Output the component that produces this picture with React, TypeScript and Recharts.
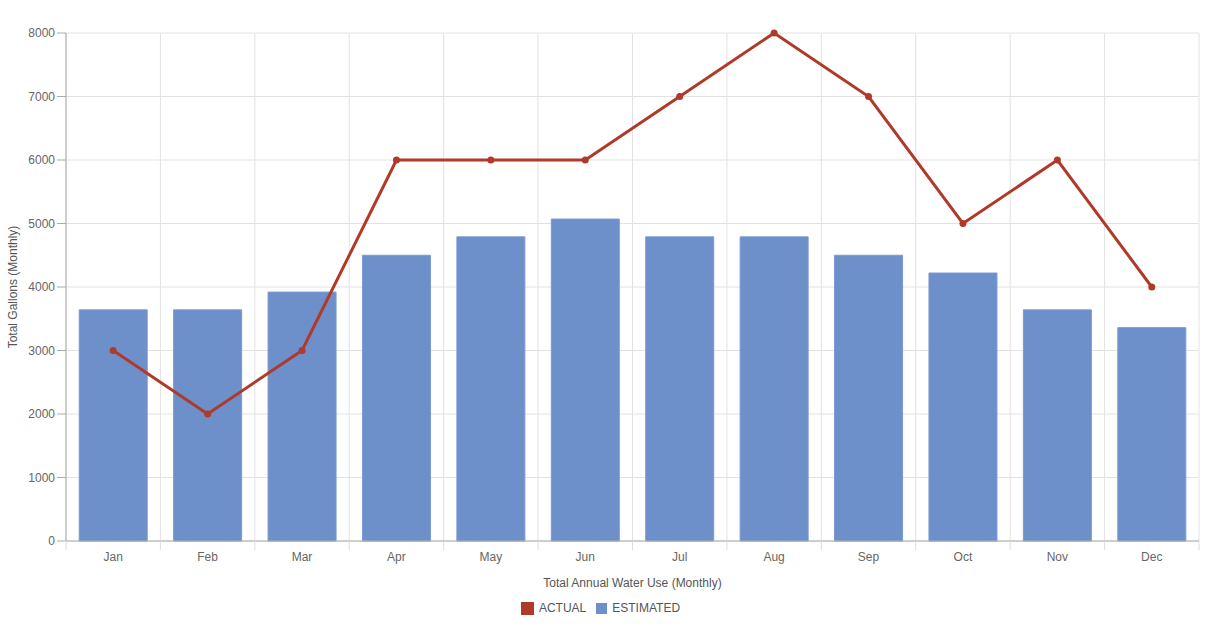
import {
  ComposedChart,
  Bar,
  Line,
  XAxis,
  YAxis,
  CartesianGrid,
  Legend,
} from 'recharts';

const months = ['Jan', 'Feb', 'Mar', 'Apr', 'May', 'Jun', 'Jul', 'Aug', 'Sep', 'Oct', 'Nov', 'Dec'];
const actual = [3000, 2000, 3000, 6000, 6000, 6000, 7000, 8000, 7000, 5000, 6000, 4000];
const estimated = [3640, 3640, 3920, 4500, 4790, 5070, 4790, 4790, 4500, 4220, 3640, 3360];
const yTicks = [0, 1000, 2000, 3000, 4000, 5000, 6000, 7000, 8000];

const data = months.map((m, i) => ({
  month: m,
  actual: actual[i],
  estimated: estimated[i],
}));

const RED = '#b03a2a';
const BLUE = '#6d8fca';
const FONT = '"Liberation Sans", Arial, sans-serif';
const TICK = 9;

// category labels, plus the small tick marks on the category boundaries
function MonthTick(props: any) {
  const { x, y, payload, index, width } = props;
  const band = width / months.length;
  const left = x - band / 2;
  return (
    <g>
      <line x1={left} x2={left} y1={y - TICK} y2={y} stroke="#ddd" />
      {index === months.length - 1 && (
        <line x1={left + band} x2={left + band} y1={y - TICK} y2={y} stroke="#ddd" />
      )}
      <text x={x} y={y + 11} textAnchor="middle" fill="#666" fontSize={12}>
        {payload.value}
      </text>
    </g>
  );
}

function LegendBox() {
  const items = [
    { label: 'ACTUAL', color: RED, size: 13 },
    { label: 'ESTIMATED', color: BLUE, size: 11 },
  ];
  return (
    <div style={{ display: 'flex', justifyContent: 'center', alignItems: 'center', paddingTop: 10, paddingLeft: 12, fontFamily: FONT, fontSize: 12, color: '#555' }}>
      {items.map((it) => (
        <span key={it.label} style={{ display: 'flex', alignItems: 'center', marginRight: 10 }}>
          <span style={{ display: 'inline-block', width: it.size, height: it.size, background: it.color, marginRight: 5 }} />
          {it.label}
        </span>
      ))}
    </div>
  );
}

export default function App() {
  return (
    <div style={{ position: 'absolute', left: 0, top: 0, width: 1222, height: 628, background: '#fff' }}>
      <ComposedChart
        width={1222}
        height={628}
        data={data}
        margin={{ top: 33, right: 23, left: 0, bottom: 0 }}
        barCategoryGap="14%"
        style={{ fontFamily: FONT }}
      >
        <CartesianGrid
          stroke="#e2e2e2"
          verticalCoordinatesGenerator={({ offset }: any) =>
            months.concat(['']).map((_, i) => offset.left + (i * offset.width) / months.length)
          }
        />
        <XAxis
          dataKey="month"
          height={50}
          tickLine={false}
          tickSize={TICK}
          axisLine={{ stroke: '#aaa' }}
          tick={<MonthTick />}
          interval={0}
          tickMargin={0}
          label={{ value: 'Total Annual Water Use (Monthly)', position: 'insideBottom', offset: 4, fill: '#555', fontSize: 12 }}
        />
        <YAxis
          width={66}
          domain={[0, 8000]}
          ticks={yTicks}
          interval={0}
          tick={{ fill: '#666', fontSize: 12 }}
          tickSize={9}
          tickMargin={2}
          axisLine={{ stroke: '#aaa' }}
          tickLine={{ stroke: '#aaa' }}
          label={{ value: 'Total Gallons (Monthly)', angle: -90, position: 'insideLeft', offset: 13, fill: '#555', fontSize: 12, style: { textAnchor: 'middle' } }}
        />
        <Legend verticalAlign="bottom" height={37} content={() => <LegendBox />} />
        <Bar dataKey="estimated" fill={BLUE} stroke="#7a9ad3" strokeWidth={1} isAnimationActive={false} />
        <Line
          dataKey="actual"
          stroke={RED}
          strokeWidth={3}
          dot={{ r: 3.5, fill: RED, stroke: RED, strokeWidth: 0 }}
          activeDot={false}
          isAnimationActive={false}
        />
      </ComposedChart>
    </div>
  );
}
